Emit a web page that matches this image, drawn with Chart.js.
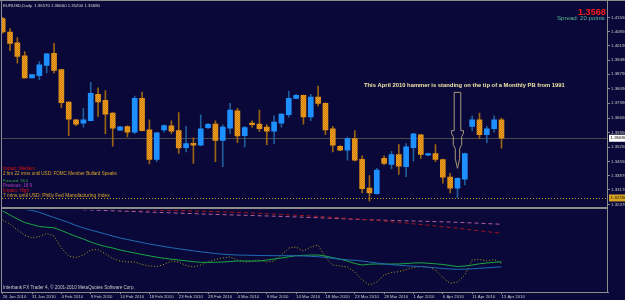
<!DOCTYPE html>
<html><head><meta charset="utf-8">
<script src="https://cdn.jsdelivr.net/npm/chart.js@4.4.1/dist/chart.umd.min.js"></script>
<style>
html,body{margin:0;padding:0;background:#0a0838;overflow:hidden;}
#wrap{position:relative;width:625px;height:300px;}
canvas{position:absolute;left:0;display:block;}
#c1{top:0;} #c2{top:208px;}
</style></head><body>
<div id="wrap"><canvas id="c1" width="625" height="208"></canvas><canvas id="c2" width="625" height="92"></canvas></div>
<script>
// ---------- DATA ----------
const dates = ["26 Jan 2010","27 Jan 2010","28 Jan 2010","29 Jan 2010","31 Jan 2010","1 Feb 2010","2 Feb 2010","3 Feb 2010","4 Feb 2010","5 Feb 2010",
"7 Feb 2010","8 Feb 2010","9 Feb 2010","10 Feb 2010","11 Feb 2010","12 Feb 2010","14 Feb 2010","15 Feb 2010","16 Feb 2010","17 Feb 2010",
"18 Feb 2010","19 Feb 2010","21 Feb 2010","22 Feb 2010","23 Feb 2010","24 Feb 2010","25 Feb 2010","26 Feb 2010","28 Feb 2010","1 Mar 2010",
"2 Mar 2010","3 Mar 2010","4 Mar 2010","5 Mar 2010","7 Mar 2010","8 Mar 2010","9 Mar 2010","10 Mar 2010","11 Mar 2010","12 Mar 2010",
"14 Mar 2010","15 Mar 2010","16 Mar 2010","17 Mar 2010","18 Mar 2010","19 Mar 2010","21 Mar 2010","22 Mar 2010","23 Mar 2010","24 Mar 2010",
"25 Mar 2010","26 Mar 2010","28 Mar 2010","29 Mar 2010","30 Mar 2010","31 Mar 2010","1 Apr 2010","2 Apr 2010","4 Apr 2010","5 Apr 2010",
"6 Apr 2010","7 Apr 2010","8 Apr 2010","9 Apr 2010","11 Apr 2010","12 Apr 2010","13 Apr 2010","14 Apr 2010","15 Apr 2010"];

const opens = [1.4149,1.4084,1.4032,1.3968,1.3861,1.3872,1.3922,1.3981,1.3901,1.3744,
1.3657,1.3641,1.3653,1.3781,1.3752,1.3690,1.3607,1.3625,1.3598,1.3762,
1.3609,1.3465,1.3609,1.3628,1.3605,1.3522,1.3543,1.3534,1.3620,1.3637,
1.3557,1.3617,1.3701,1.3581,1.3642,1.3637,1.3622,1.3602,1.3641,1.3682,
1.3762,1.3776,1.3672,1.3768,1.3738,1.3614,1.3529,1.3510,1.3566,1.3466,
1.3326,1.3299,1.3470,1.3441,1.3489,1.3430,1.3522,1.3585,1.3486,1.3494,
1.3465,1.3379,1.3326,1.3369,1.3625,1.3657,1.3585,1.3614,1.3657];

const highs = [1.4155,1.4101,1.4057,1.3989,1.3879,1.3941,1.3980,1.4029,1.3902,1.3745,
1.3659,1.3713,1.3840,1.3813,1.3800,1.3693,1.3626,1.3628,1.3773,1.3792,
1.3657,1.3597,1.3633,1.3653,1.3693,1.3626,1.3570,1.3682,1.3640,1.3653,
1.3633,1.3738,1.3713,1.3626,1.3653,1.3705,1.3634,1.3677,1.3688,1.3797,
1.3781,1.3778,1.3781,1.3821,1.3740,1.3626,1.3532,1.3574,1.3605,1.3483,
1.3387,1.3422,1.3483,1.3505,1.3537,1.3542,1.3592,1.3587,1.3496,1.3537,
1.3467,1.3398,1.3376,1.3496,1.3677,1.3690,1.3626,1.3677,1.3666];

const lows = [1.4078,1.3993,1.3933,1.3860,1.3860,1.3853,1.3885,1.3885,1.3717,1.3581,
1.3629,1.3622,1.3652,1.3674,1.3590,1.3529,1.3605,1.3574,1.3590,1.3604,
1.3443,1.3454,1.3598,1.3590,1.3494,1.3502,1.3446,1.3532,1.3614,1.3454,
1.3430,1.3590,1.3546,1.3526,1.3622,1.3601,1.3537,1.3542,1.3622,1.3670,
1.3760,1.3637,1.3653,1.3725,1.3585,1.3502,1.3508,1.3462,1.3457,1.3302,
1.3262,1.3297,1.3438,1.3419,1.3393,1.3382,1.3457,1.3470,1.3484,1.3454,
1.3350,1.3302,1.3278,1.3342,1.3605,1.3566,1.3546,1.3598,1.3520];

const closes = [1.4084,1.4029,1.3965,1.3861,1.3877,1.3925,1.3978,1.3898,1.3741,1.3661,
1.3636,1.3657,1.3786,1.3744,1.3685,1.3617,1.3623,1.3598,1.3762,1.3605,
1.3465,1.3594,1.3629,1.3602,1.3521,1.3542,1.3534,1.3614,1.3636,1.3557,
1.3622,1.3705,1.3579,1.3620,1.3634,1.3614,1.3602,1.3646,1.3685,1.3762,
1.3776,1.3672,1.3768,1.3737,1.3609,1.3534,1.3510,1.3566,1.3462,1.3323,
1.3302,1.3414,1.3446,1.3489,1.3433,1.3526,1.3590,1.3489,1.3494,1.3465,
1.3379,1.3326,1.3374,1.3494,1.3657,1.3585,1.3614,1.3657,1.3568];

const priceTicks = [1.41550,1.40850,1.40190,1.39480,1.38790,1.38090,1.37390,1.36650,1.35950,1.35250,1.34550,1.33870,1.33170,1.32470];
const dateTickIdx = [0,4,8,12,16,20,24,28,32,36,40,44,48,52,56,60,64,68];

// indicator window (arbitrary units, 0 = panel bottom)
const greenLine = [81,77,73,69.5,67.5,65.5,64.8,64.2,61.5,58.5,
55.5,53,50,47.5,45.5,44,42,40.5,39,37.5,
36.2,34.8,33.7,32.8,32,31.2,30.3,29.7,29.7,29.7,
30,30.5,31,31,31,31,32,33,34,35.2,
36.3,36.7,36.9,37,36,34.3,32.8,31,28.5,27,
27.8,28,28,28,28,28.5,29,29.2,28.7,28.2,
27.5,26.5,25.5,26,27,28.2,29,29.7,30.3];
const blueLineStart = 3;
const blueLine = [82.5,81.5,79.7,77,74.5,72,69.5,66.5,64,62,
60,58,56,54,52.5,51,49.5,48,46.7,45.5,
44.3,43.2,42.2,41.2,40.2,39.3,38.5,37.8,37.3,37,
36.8,36.7,36.5,36.4,36.3,36.3,36.3,36.2,36,35.7,
35.3,34.5,33.7,32.8,32.2,31.7,31,30,29,28,
27.3,26.7,26.2,25.8,25.4,24.8,24.2,23.5,23,22.7,
22.8,23.2,23.7,24.2,24.7,25.2];
const dottedLine = [72,68,62,57,54,55.5,58.5,56,44,36,
34.5,37,42,42.5,38,33.5,31,30,30,27.5,
26,25.5,27.5,31,30,26.5,25,27,30,32.5,
34,35,32,30,30.5,32,30,31,37,44,
45,41,45,47,34.5,27,26,25,20,12,
7,10,17,19.5,20.3,22.5,24.5,25.5,25,22,
14.5,8.7,10,17,32,32.5,31,32.5,28.5];
const redDashIdx = [10,14,18,22,26,30,34,38,42,46,50,54,58,62,66,68];
const redDashVals = [82.8,82.6,82.2,81.7,81,80.1,79,77.5,76,74.2,72.2,69.6,66.8,63.8,60.4,58.7];
const mauveDashIdx = [9,13,17,21,25,29,33,37,41,45,49,53,57,61,65,68];
const mauveDashVals = [82.8,81.7,80.7,79.6,78.6,77.6,76.7,75.8,74.8,73.7,72.4,71.6,70.8,70,68.8,67.7];

const bidPrice = 1.3568;
const lowLinePrice = 1.3278;
const arrowBar = 62, arrowTopPrice = 1.3791, arrowNeckPrice = 1.3605, arrowTipPrice = 1.3422;

const headerText = "EURUSD,Daily  1.36570 1.36660 1.35200 1.35680";
const noteText = "This April 2010 hammer is standing on the tip of a Monthly PB from 1991";
const newsLines = [
  ["Impact: Medium", "#d41414", 168.3, 32],
  ["2 hrs 22 mins until USD: FOMC Member Bullard Speaks", "#d9a52a", 174, 114],
  ["Forecast: 18.0", "#3aaa3a", 180.7, 25],
  ["Previous: 18.9", "#b044b8", 185.7, 29],
  ["Impact: High", "#d41414", 190.7, 26],
  ["7 mins until USD: Philly Fed Manufacturing Index", "#d9a52a", 195.7, 107]
];
const footerText = "Interbank FX Trader 4, \u00A9 2001-2010 MetaQuotes Software Corp.";

// ---------- STYLE ----------
const BG = '#0a0838';
const FONT = '"Liberation Sans", Arial, sans-serif';
const FRAME = '#8c8c8c';
const BULL = '#1e8fff', BULL_WICK = '#1f5c9a', BEAR_WICK = '#9a6412';
const X_MIN = -0.095, X_MAX = 82.52;

function bearPattern(ctx){
  const p = document.createElement('canvas'); p.width = 2; p.height = 2;
  const g = p.getContext('2d');
  g.fillStyle = '#f6a220'; g.fillRect(0,0,2,2);
  g.fillStyle = '#c98010'; g.fillRect(1,0,1,1); g.fillRect(0,1,1,1);
  return ctx.createPattern(p, 'repeat');
}

function fitText(ctx, text, x, y, width, color, weight){
  ctx.save();
  const w0 = weight || 'normal';
  ctx.font = w0 + ' 20px ' + FONT;
  const w = ctx.measureText(text).width;
  const size = 20 * width / w;
  ctx.font = w0 + ' ' + size.toFixed(2) + 'px ' + FONT;
  ctx.fillStyle = color; ctx.textBaseline = 'middle'; ctx.textAlign = 'left';
  ctx.fillText(text, x, y);
  ctx.restore();
}

const c1 = document.getElementById('c1');
const ctx1 = c1.getContext('2d');
const bearFill = bearPattern(ctx1);

const mainOverlay = {
  id: 'mainOverlay',
  beforeDraw(chart){
    const c = chart.ctx; c.save(); c.fillStyle = BG; c.fillRect(0,0,chart.width,chart.height); c.restore();
  },
  beforeDatasetsDraw(chart){
    const {ctx, chartArea: a, scales: {y}} = chart;
    ctx.save();
    ctx.lineWidth = 1;
    ctx.strokeStyle = '#4a4a4a';
    let py = Math.round(y.getPixelForValue(bidPrice)) + 0.5;
    ctx.beginPath(); ctx.moveTo(a.left, py); ctx.lineTo(a.right, py); ctx.stroke();
    ctx.strokeStyle = '#c8961a'; ctx.setLineDash([1,2]);
    py = Math.round(y.getPixelForValue(lowLinePrice)) + 0.5;
    ctx.beginPath(); ctx.moveTo(a.left, py); ctx.lineTo(a.right, py); ctx.stroke();
    ctx.restore();
  },
  afterDraw(chart){
    const {ctx, scales: {x, y}} = chart;
    ctx.save();
    // frame
    ctx.fillStyle = FRAME;
    ctx.fillRect(0, 0, 625, 1);
    ctx.fillRect(1, 0, 1, 208);
    ctx.fillRect(607, 0, 1, 208);
    ctx.fillRect(1, 207, 607, 1);
    // price boxes on axis
    let py = y.getPixelForValue(bidPrice);
    ctx.fillStyle = '#ffffff'; ctx.fillRect(609, py - 3.5, 16, 7);
    ctx.fillStyle = '#000000'; ctx.font = '4.4px ' + FONT; ctx.textBaseline = 'middle';
    ctx.fillText(bidPrice.toFixed(5), 610.5, py);
    py = y.getPixelForValue(lowLinePrice);
    ctx.fillStyle = '#d6a322'; ctx.fillRect(609, py - 3.5, 16, 7);
    ctx.fillStyle = '#1a1000';
    ctx.fillText(lowLinePrice.toFixed(5), 610.5, py);
    // arrow
    const ax = x.getPixelForValue(arrowBar);
    const top = y.getPixelForValue(arrowTopPrice), neck = y.getPixelForValue(arrowNeckPrice), tip = y.getPixelForValue(arrowTipPrice);
    const pts = [[-3.3,top],[3.3,top],[3.3,neck],[6,neck],[6,neck+2.5],[4.2,neck+6],[4.2,neck+14],[2.2,neck+18],[2.2,neck+28],[0,tip],
      [-2.2,neck+28],[-2.2,neck+18],[-4.2,neck+14],[-4.2,neck+6],[-6,neck+2.5],[-6,neck],[-3.3,neck]];
    ctx.strokeStyle = '#a89878'; ctx.lineWidth = 1;
    ctx.beginPath();
    pts.forEach((p,i)=>{ const px = ax + p[0], pyy = p[1]; if(i===0) ctx.moveTo(px,pyy); else ctx.lineTo(px,pyy); });
    ctx.closePath(); ctx.stroke();
    ctx.restore();
    // texts
    fitText(ctx, headerText, 3, 5.5, 97, '#d8d8d8');
    fitText(ctx, bidPrice.toFixed(4), 578, 12.3, 28, '#ff1a1a', 'bold');
    fitText(ctx, 'Spread: 20 points', 557, 18.5, 48, '#5cb89a');
    fitText(ctx, noteText, 364, 85, 201, '#f0e4a8', 'bold');
    newsLines.forEach(l => fitText(ctx, l[0], 3, l[2], l[3], l[1]));
  }
};

new Chart(c1, {
  type: 'bar',
  data: {
    datasets: [
      { label: 'range', data: lows.map((l,i)=>({x:i, y:[l, highs[i]]})),
        backgroundColor: closes.map((c,i)=> c >= opens[i] ? BULL_WICK : BEAR_WICK),
        barThickness: 1, grouped: false, order: 2, borderWidth: 0 },
      { label: 'body', data: opens.map((o,i)=>({x:i, y:[o, closes[i]]})),
        backgroundColor: closes.map((c,i)=> c >= opens[i] ? BULL : bearFill),
        barThickness: 5, grouped: false, order: 1, borderWidth: 0 }
    ]
  },
  options: {
    responsive: false, animation: false, devicePixelRatio: 1, events: [],
    layout: { padding: { left: 2, right: 0, top: 3, bottom: 1.5 } },
    plugins: { legend: { display: false }, tooltip: { enabled: false } },
    scales: {
      x: { type: 'linear', min: X_MIN, max: X_MAX, offset: false, display: false },
      y: { position: 'right', min: 1.3247, max: 1.42218,
        afterBuildTicks: s => { s.ticks = priceTicks.map(v => ({ value: v })); },
        afterFit: s => { s.width = 17; },
        ticks: { font: { size: 4.4, family: FONT }, color: '#c8c8c8', padding: 1, autoSkip: false,
          callback: v => Number(v).toFixed(5) },
        grid: { drawOnChartArea: false, drawTicks: true, tickLength: 2, color: FRAME },
        border: { display: false }
      }
    }
  },
  plugins: [mainOverlay]
});

const subOverlay = {
  id: 'subOverlay',
  beforeDraw(chart){
    const c = chart.ctx; c.save(); c.fillStyle = BG; c.fillRect(0,0,chart.width,chart.height); c.restore();
  },
  afterDraw(chart){
    const ctx = chart.ctx;
    ctx.save();
    ctx.fillStyle = FRAME;
    ctx.fillRect(1, 0, 607, 1);
    ctx.fillRect(1, 0, 1, 85);
    ctx.fillRect(607, 0, 1, 85);
    ctx.restore();
    fitText(ctx, footerText, 3, 79.5, 132, '#c8c8c8');
  }
};

new Chart(document.getElementById('c2'), {
  type: 'line',
  data: {
    datasets: [
      { data: redDashIdx.map((x,k)=>({x, y: redDashVals[k]})), borderColor: '#a0141e', borderDash: [4,3], borderWidth: 1, pointRadius: 0 },
      { data: mauveDashIdx.map((x,k)=>({x, y: mauveDashVals[k]})), borderColor: '#b0609c', borderDash: [4,3], borderWidth: 1, pointRadius: 0 },
      { data: blueLine.map((v,k)=>({x: k + blueLineStart, y: v})), borderColor: '#1e6cb4', borderWidth: 1, pointRadius: 0 },
      { data: greenLine.map((v,i)=>({x: i, y: v})), borderColor: '#18a845', borderWidth: 1, pointRadius: 0 },
      { data: dottedLine.map((v,i)=>({x: i, y: v})), borderColor: '#b0a418', borderDash: [1,2], borderWidth: 1, pointRadius: 0 }
    ]
  },
  options: {
    responsive: false, animation: false, devicePixelRatio: 1, events: [],
    layout: { padding: { left: 2, right: 17, top: 2, bottom: 0 } },
    plugins: { legend: { display: false }, tooltip: { enabled: false } },
    scales: {
      x: { type: 'linear', min: X_MIN, max: X_MAX, offset: false,
        afterBuildTicks: s => { s.ticks = dateTickIdx.map(v => ({ value: v })); },
        afterFit: s => { s.height = 8; },
        ticks: { align: 'start', font: { size: 4.3, family: FONT }, color: '#c8c8c8', padding: 0,
          maxRotation: 0, autoSkip: false, callback: v => dates[v] },
        grid: { drawOnChartArea: false, drawTicks: true, tickLength: 2, color: FRAME },
        border: { display: true, color: FRAME }
      },
      y: { min: 0, max: 82, display: false }
    }
  },
  plugins: [subOverlay]
});
</script>
</body></html>
